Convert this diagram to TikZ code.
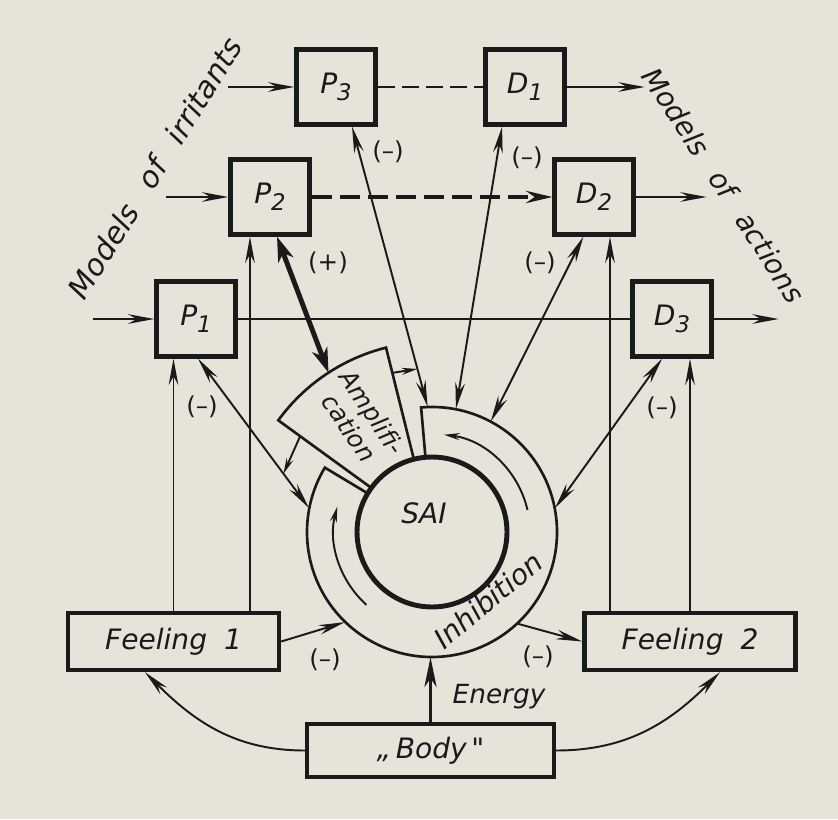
\documentclass[tikz,border=0pt]{standalone}
\usepackage{fontspec}
\setmainfont{DejaVu Sans}
\usepackage{tikz}
\usetikzlibrary{arrows.meta,positioning}

\definecolor{paper}{HTML}{E5E3DA}
\definecolor{ink}{HTML}{1A1A1A}
\newcommand{\blk}[2]{#1\raisebox{-.45ex}{\fontsize{13}{13}\selectfont #2}}

\begin{document}
\begin{tikzpicture}[x=0.02cm, y=0.02cm, ink,
    every node/.style={font=\fontsize{16}{19}\selectfont\itshape},
    box/.style={draw, line width=2.5pt, minimum width=1.58cm, minimum height=1.5cm, inner sep=0pt},
    wbox/.style={draw, line width=2.5pt, minimum width=4.22cm, minimum height=1.14cm, inner sep=0pt},
    wire/.style={line width=1.1pt},
    arr/.style={wire, -{Stealth[length=15pt, width=5.5pt, inset=5pt]}},
    arrs/.style={wire, {Stealth[length=15pt, width=5.5pt, inset=5pt]}-{Stealth[length=15pt, width=5.5pt, inset=5pt]}},
    small/.style={wire, -{Stealth[length=9pt, width=4pt, inset=3pt]}},
    sgn/.style={font=\fontsize{14}{16}\selectfont\upshape},
  ]
            % paper
            \fill[paper] (0,0) rectangle (838,819);

            % boxes
            \node[box] (P3) at (336,732) {\blk{P}{3}};
            \node[box] (D1) at (525,732) {\blk{D}{1}};
            \node[box] (P2) at (270,622) {\blk{P}{2}};
            \node[box] (D2) at (594,622) {\blk{D}{2}};
            \node[box] (P1) at (196,500) {\blk{P}{1}};
            \node[box] (D3) at (672,500) {\blk{D}{3}};
            \node[wbox] (F1) at (173.5,177.5) {Feeling\hspace{.6em}1};
            \node[wbox] (F2) at (690,177.5) {Feeling\hspace{.6em}2};
            \node[wbox, minimum width=4.94cm, minimum height=1.06cm] (body) at (430.5,68.5) {„\,Body\,\textquotedbl};

            % ring
            \node[circle, minimum size=5cm, inner sep=0pt] (ring) at (432,287) {};
            \draw[line width=1.5pt] (ring.center) ++(95:75) -- ++(95:50)
                arc[start angle=95, end angle=-211, radius=125] -- ++(-31:50);
            \draw[line width=1.5pt] (ring.center) ++(104:75) -- ++(104:115)
                arc[start angle=104, end angle=144, radius=190] -- ++(-36:115)
                arc[start angle=144, end angle=104, radius=75] -- cycle;
            \node[circle, draw, line width=2.8pt, minimum size=3cm, inner sep=0pt] (sai) at (ring.center) {};
            \draw[small] (ring.center) ++(13:98) arc[start angle=13, end angle=83, radius=98];
            \draw[small] (ring.center) ++(228:98) arc[start angle=228, end angle=165, radius=98];
            \path (ring.center) ++(123:190) coordinate (ampT);
            \path (ring.center) ++(104:164) coordinate (ampR);
            \path (ring.center) ++(144:163) coordinate (ampL);

            \node (saitxt) at (424,306) {SAI};
            \node[rotate=40] (inh) at (488,219) {Inhibition};
            \node[rotate=-56, align=center, font=\fontsize{14}{16}\selectfont\itshape] (ampl) at (361,399) {Amplifi-\\cation};

            % inputs and outputs
            \coordinate[left=1.32cm of P3.west] (in3);
            \coordinate[left=1.24cm of P2.west] (in2);
            \coordinate[left=1.22cm of P1.west] (in1);
            \coordinate[right=1.56cm of D1.east] (out1);
            \coordinate[right=1.42cm of D2.east] (out2);
            \coordinate[right=1.3cm of D3.east] (out3);
            \draw[arr] (in3) -- (P3);
            \draw[arr] (in2) -- (P2);
            \draw[arr] (in1) -- (P1);
            \draw[arr] (D1) -- (out1);
            \draw[arr] (D2) -- (out2);
            \draw[arr] (D3) -- (out3);

            % P-D links
            \draw[line width=1.6pt, dash pattern=on 0.34cm off 0.14cm] (P3) -- (D1);
            \draw[line width=2.2pt, dash pattern=on 0.4cm off 0.16cm,
                  -{Stealth[length=15pt, width=7pt, inset=5pt]}] (P2) -- (D2);
            \draw[wire] (P1) -- (D3);

            % feelings up to the boxes
            \draw[arr] (F1.north) -- (F1.north |- P1.south);
            \draw[arr] ([xshift=1.53cm]F1.north) -- ([xshift=1.53cm]F1.north |- P2.south);
            \draw[arr] ([xshift=-1.6cm]F2.north) -- ([xshift=-1.6cm]F2.north |- D2.south);
            \draw[arr] (F2.north) -- (F2.north |- D3.south);

            % boxes and ring
            \draw[arrs] (P3.-68) -- coordinate[pos=.865] (mP3) (ring.92);
            \draw[arrs] (D1.-120) -- (ring.79);
            \draw[arrs] (D2.-105) -- (ring.62);
            \draw[arrs] (D3.-104) -- (ring.11);
            \draw[arrs] (P1.-87) -- coordinate[pos=.77] (mP1) (ring.169);
            \draw[line width=2.8pt, {Stealth[length=14pt, width=9pt, inset=4pt]}-{Stealth[length=14pt, width=9pt, inset=4pt]}] (P2.-80) -- (ampT);
            \draw[small] (ampR) -- (mP3);
            \draw[small] (ampL) -- (mP1);

            % feelings and body
            \draw[arr] (F1.east) -- (ring.226);
            \draw[arr] (ring.313) -- (F2.west);
            \draw[line width=1.4pt, -{Stealth[length=17pt, width=7pt, inset=5pt]}] (body.north) -- (body.north |- ring.south);
            \draw[arr] (body.west) to[out=180, in=-45] ([xshift=-0.57cm]F1.south);
            \draw[arr] (body.east) to[out=0, in=-135] ([xshift=0.6cm]F2.south);

            % signs
            \node[sgn] (sP2) at (328,556) {(+)};
            \node[sgn] (sP3) at (388,667) {(--)};
            \node[sgn] (sD1) at (527,661) {(--)};
            \node[sgn] (sD2) at (540,556) {(--)};
            \node[sgn] (sD3) at (662,411) {(--)};
            \node[sgn] (sP1) at (202,412) {(--)};
            \node[sgn] (sF1) at (325,159) {(--)};
            \node[sgn] (sF2) at (538,162) {(--)};
            \node[font=\fontsize{15}{18}\selectfont\itshape] (en) at (499,122) {Energy};

            % models
            \node[rotate=58, font=\fontsize{17}{20}\selectfont\itshape] (mirr) at (155,651) {Models\hspace{.5em} of\hspace{.5em} irritants};
            \node[rotate=-57, font=\fontsize{16}{19}\selectfont\itshape] (mact) at (724,634) {Models\hspace{.5em} of\hspace{.5em} actions};
\end{tikzpicture}
\end{document}
